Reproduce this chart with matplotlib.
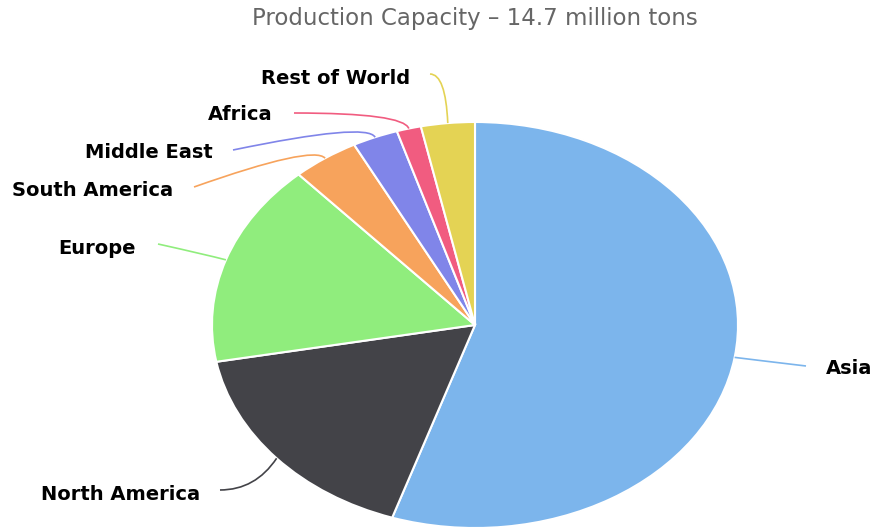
import numpy as np
import matplotlib
matplotlib.use("Agg")
import matplotlib.pyplot as plt
from matplotlib.path import Path
from matplotlib.patches import PathPatch

title = "Production Capacity \u2013 14.7 million tons"
regions = ["Asia", "North America", "Europe", "South America", "Middle East", "Africa", "Rest of World"]
shares = [55.1, 17.0, 16.2, 4.1, 2.8, 1.5, 3.3]
colors = ["#7cb5ec", "#434348", "#90ed7d", "#f7a35c", "#8085e9", "#f15c80", "#e4d354"]

W, H = 873, 529
fig = plt.figure(figsize=(W / 100, H / 100), dpi=100)

# overlay axes in pixel coordinates for labels and connectors
ov = fig.add_axes([0, 0, 1, 1])
ov.set_xlim(0, W)
ov.set_ylim(H, 0)
ov.axis("off")

# pie ellipse bounding box in pixels
cx, cy = 475, 325
rx, ry = 263, 203
pax = fig.add_axes([(cx - rx) / W, (H - (cy + ry)) / H, 2 * rx / W, 2 * ry / H])
wedges, _ = pax.pie(shares, colors=colors, startangle=90, counterclock=False,
                    wedgeprops=dict(edgecolor="white", linewidth=1.5))
pax.set_xlim(-1, 1)
pax.set_ylim(-1, 1)
pax.set_aspect("auto")
pax.axis("off")
pax.set_zorder(0)
ov.set_zorder(1)
ov.patch.set_alpha(0)

fig.text(cx / W, 1 - 18 / H, title, ha="center", va="center", fontsize=16.5, color="#666666")

# label anchor positions (pixels): (text x, text y, ha, connector end x, y)
label_pos = {
    "Asia": (826, 369, "left", 806, 366),
    "North America": (200, 494, "right", 220, 490),
    "Europe": (136, 248, "right", 158, 244),
    "South America": (173, 190, "right", 194, 187),
    "Middle East": (213, 153, "right", 233, 150),
    "Africa": (273, 115, "right", 294, 113),
    "Rest of World": (410, 78, "right", 430, 74),
}

cum = np.cumsum([0] + shares)
total = sum(shares)
for i, name in enumerate(regions):
    mid = (cum[i] + cum[i + 1]) / 2 / total * 360.0
    # clockwise from top
    sx, sy = np.sin(np.radians(mid)), np.cos(np.radians(mid))
    ex, ey = cx + rx * sx, cy - ry * sy
    ox, oy = cx + rx * 1.08 * sx, cy - ry * 1.08 * sy
    tx, ty, ha, lx, ly = label_pos[name]
    if abs(sx) < 0.3:
        ctrl = (ox, ly)
    elif sy < 0 and sx < 0:
        ctrl = ((lx + ox) / 2 + 15, ly)
    else:
        ctrl = (ox, oy)
    path = Path([(lx, ly), ctrl, (ex, ey)],
                [Path.MOVETO, Path.CURVE3, Path.CURVE3])
    ov.add_patch(PathPatch(path, facecolor="none", edgecolor=colors[i], linewidth=1.2))
    ov.text(tx, ty, name, ha=ha, va="center", fontsize=14, fontweight="bold", color="#000000")

fig.savefig("out.png", dpi=100)
